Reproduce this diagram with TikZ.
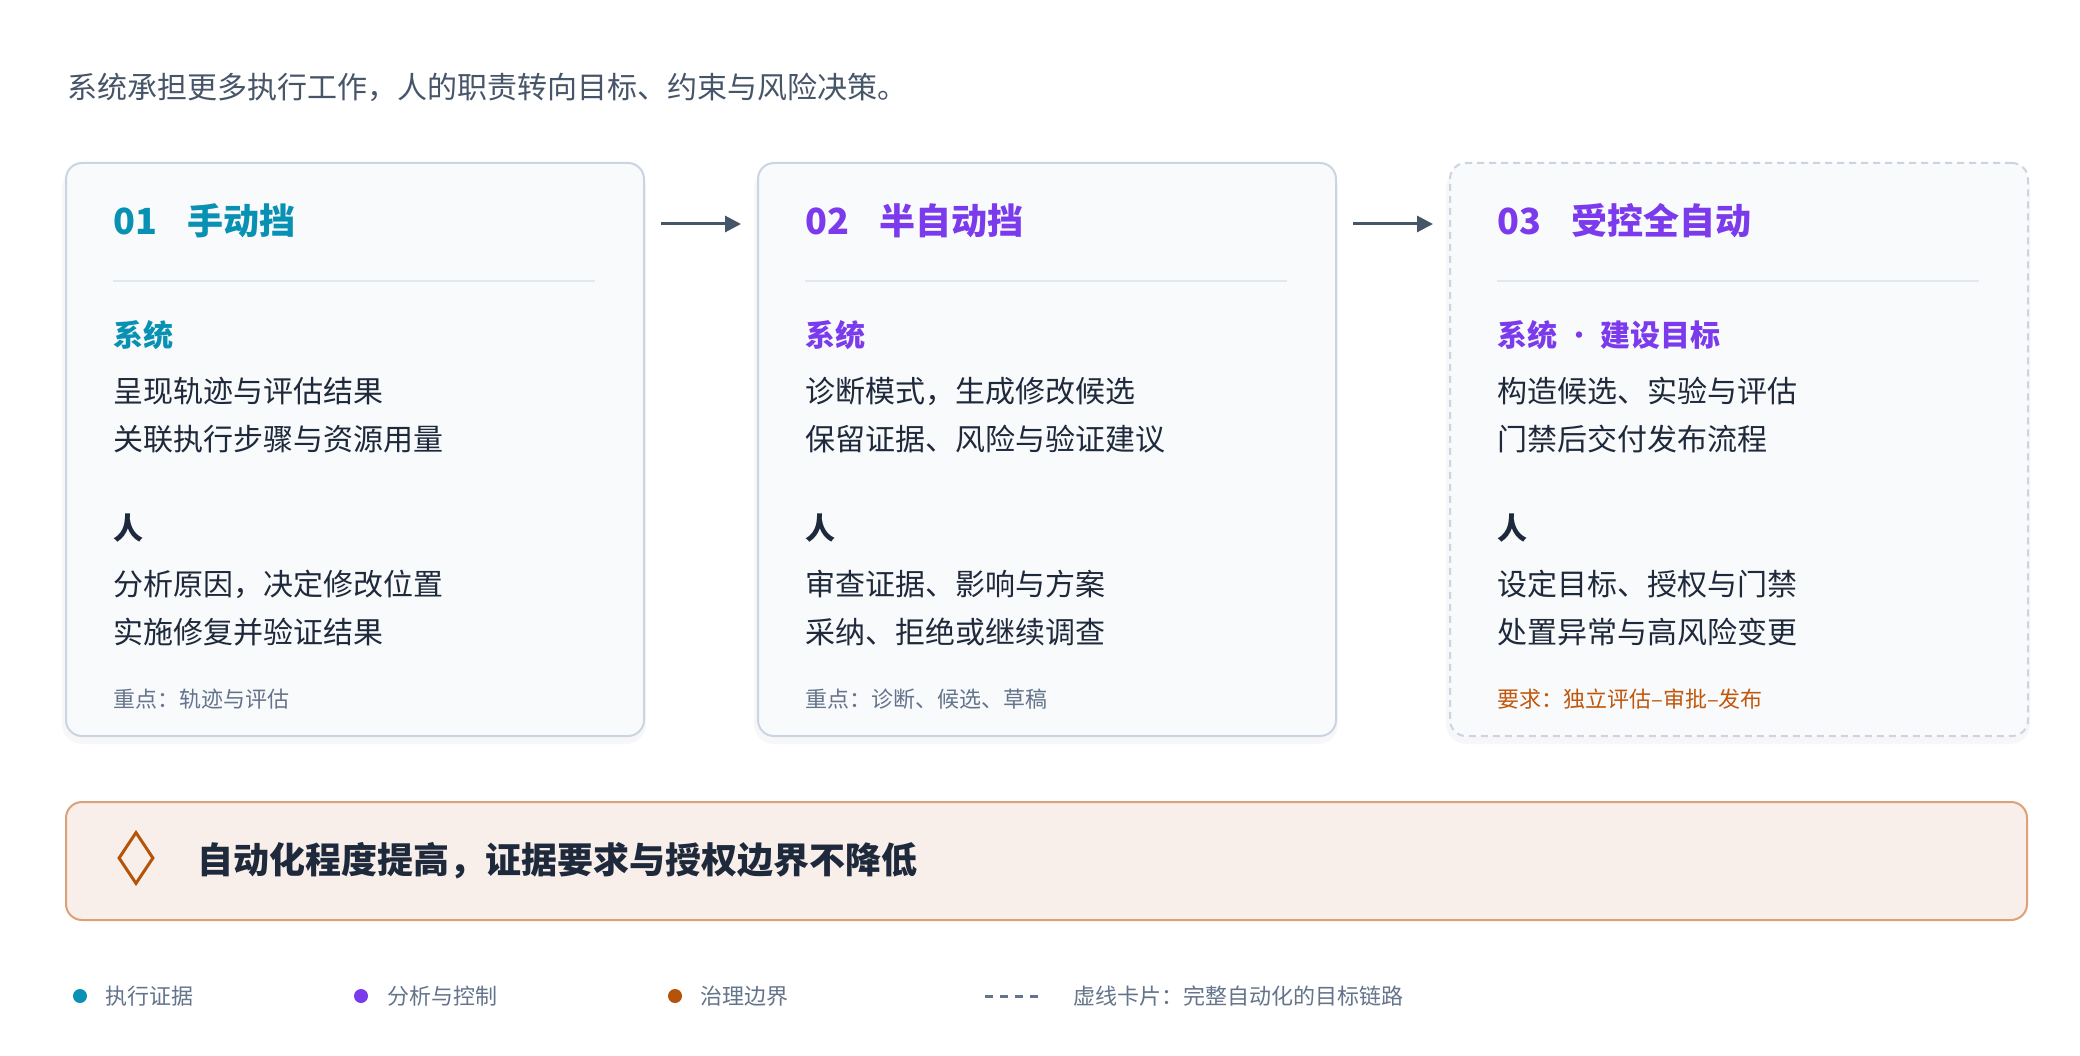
\documentclass[tikz,border=0pt]{standalone}
\usepackage{fontspec}
\setmainfont{Noto Sans CJK SC}
\usetikzlibrary{positioning,shapes.geometric,arrows.meta}

\definecolor{tealA}{HTML}{0891B2}
\definecolor{violetA}{HTML}{7C3AED}
\definecolor{rustA}{HTML}{B45309}
\definecolor{rustB}{HTML}{C2570C}
\definecolor{inkA}{HTML}{1E293B}
\definecolor{slateA}{HTML}{475569}
\definecolor{slateB}{HTML}{64748B}
\definecolor{cardbg}{HTML}{F8FAFC}
\definecolor{cardline}{HTML}{CBD5E1}
\definecolor{ruleline}{HTML}{E2E8F0}
\definecolor{bandbg}{HTML}{F8EFEA}
\definecolor{bandline}{HTML}{DDA079}

\tikzset{
  card/.style={draw=cardline, fill=cardbg, line width=2pt, rounded corners=16pt,
    minimum width=578pt, minimum height=573pt, anchor=north west, inner sep=0pt},
  haze/.style={fill=slateB, opacity=0.05, rounded corners=20pt},
  dashcard/.style={dash pattern=on 7pt off 5pt},
  num/.style={anchor=west, inner sep=0pt, font=\fontsize{36}{40}\selectfont\bfseries},
  title/.style={anchor=west, inner sep=0pt, font=\fontsize{36}{40}\selectfont\bfseries},
  sep/.style={draw=ruleline, line width=2pt},
  sys/.style={anchor=west, inner sep=0pt, font=\fontsize{30}{36}\selectfont\bfseries},
  who/.style={anchor=west, inner sep=0pt, text=inkA, font=\fontsize{30}{36}\selectfont\bfseries},
  body/.style={anchor=west, inner sep=0pt, align=left, text=inkA, font=\fontsize{30}{48}\selectfont},
  note/.style={anchor=west, inner sep=0pt, text=slateB, font=\fontsize{22}{26}\selectfont},
  flow/.style={draw=slateA, line width=3pt, -{Triangle[length=16pt,width=16pt]}},
  dot/.style={circle, inner sep=0pt, minimum size=14pt},
  key/.style={anchor=west, inner sep=0pt, text=slateB, font=\fontsize{22}{26}\selectfont},
}

\begin{document}
\begin{tikzpicture}[x=1pt, y=-1pt]
\useasboundingbox[fill=white] (0,0) rectangle (2080,1056);

\node[anchor=west, inner sep=0pt, text=slateA, font=\fontsize{30}{36}\selectfont] (lead) at (67,87)
  {系统承担更多执行工作，人的职责转向目标、约束与风险决策。};

% soft shadows under the cards
\fill[haze] (62,168) rectangle (646,744);
\fill[haze] (754,168) rectangle (1338,744);
\fill[haze] (1446,168) rectangle (2030,744);

% the three stages
\node[card] (c1) at (65,162) {};
\node[card] (c2) at (757,162) {};
\node[card, dashcard] (c3) at (1449,162) {};

\draw[flow] ([shift={(16,62)}]c1.north east) -- ([shift={(-16,62)}]c2.north west);
\draw[flow] ([shift={(16,62)}]c2.north east) -- ([shift={(-16,62)}]c3.north west);

% stage 01
\node[num, text=tealA] (n1) at (113,221) {01};
\node[title, text=tealA] (t1) at (187,221) {手动挡};
\draw[sep] (113,281) -- (595,281);
\node[sys, text=tealA] (s1) at (113,335) {系统};
\node[body] (sb1) at (113,415) {呈现轨迹与评估结果\\关联执行步骤与资源用量};
\node[who] (w1) at (113,528) {人};
\node[body] (wb1) at (113,608) {分析原因，决定修改位置\\实施修复并验证结果};
\node[note] (f1) at (113,699) {重点：轨迹与评估};

% stage 02
\node[num, text=violetA] (n2) at (805,221) {02};
\node[title, text=violetA] (t2) at (879,221) {半自动挡};
\draw[sep] (805,281) -- (1287,281);
\node[sys, text=violetA] (s2) at (805,335) {系统};
\node[body] (sb2) at (805,415) {诊断模式，生成修改候选\\保留证据、风险与验证建议};
\node[who] (w2) at (805,528) {人};
\node[body] (wb2) at (805,608) {审查证据、影响与方案\\采纳、拒绝或继续调查};
\node[note] (f2) at (805,699) {重点：诊断、候选、草稿};

% stage 03
\node[num, text=violetA] (n3) at (1497,221) {03};
\node[title, text=violetA] (t3) at (1571,221) {受控全自动};
\draw[sep] (1497,281) -- (1979,281);
\node[sys, text=violetA] (s3) at (1497,335) {系统 {\mdseries ·} 建设目标};
\node[body] (sb3) at (1497,415) {构造候选、实验与评估\\门禁后交付发布流程};
\node[who] (w3) at (1497,528) {人};
\node[body] (wb3) at (1497,608) {设定目标、授权与门禁\\处置异常与高风险变更};
\node[note, text=rustB] (f3) at (1497,699) {要求：独立评估–审批–发布};

% banner
\node[draw=bandline, fill=bandbg, line width=2pt, rounded corners=16pt, anchor=north west,
  minimum width=1961pt, minimum height=118pt, inner sep=0pt] (band) at (65,801) {};
\node[diamond, draw=rustA, line width=3pt, aspect=0.67, minimum width=35pt, minimum height=52pt,
  inner sep=0pt] (gem) at (136,858) {};
\node[anchor=west, inner sep=0pt, text=inkA, font=\fontsize{36}{42}\selectfont\bfseries] (claim) at (197,861)
  {自动化程度提高，证据要求与授权边界不降低};

% legend
\node[dot, fill=tealA] (d1) at (80,996) {};
\node[key, right=18pt of d1] (k1) {执行证据};
\node[dot, fill=violetA] (d2) at (361,996) {};
\node[key, right=19pt of d2] (k2) {分析与控制};
\node[dot, fill=rustA] (d3) at (675,996) {};
\node[key, right=18pt of d3] (k3) {治理边界};
\coordinate (d4) at (985,996);
\draw[draw=slateB, line width=3pt, dash pattern=on 8pt off 7pt] (d4) -- ++(56,0) coordinate (d4e);
\node[key, right=32pt of d4e] (k4) {虚线卡片：完整自动化的目标链路};
\end{tikzpicture}
\end{document}
